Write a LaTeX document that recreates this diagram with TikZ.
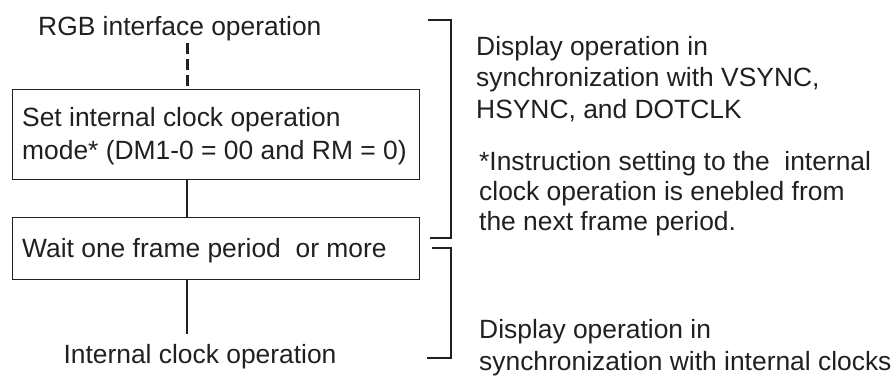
\documentclass[tikz,border=0pt]{standalone}
\usepackage{fontspec}
\setmainfont{Liberation Sans}
\definecolor{ink}{RGB}{35,31,32}
\begin{document}
\begin{tikzpicture}[x=1pt,y=-1pt,
  txt/.style={font=\fontsize{26.4}{31.5}\selectfont, text=ink, inner sep=0pt},
  fbox/.style={draw=ink, line width=1pt, minimum width=407pt, inner sep=0pt},
  conn/.style={draw=ink, line width=2pt},
  dconn/.style={draw=ink, line width=3pt, dash pattern=on 11pt off 5pt},
  brk/.style={draw=ink, line width=2pt}]
\useasboundingbox (0,0) rectangle (896,376);
\coordinate (c) at (187,0);
\node[txt, anchor=base west] (rgb) at (38,35) {RGB interface operation};
\node[fbox, minimum height=90pt, anchor=north west] (b1) at (12,89) {};
\node[txt, anchor=base west, align=left, font=\fontsize{26.4}{33}\selectfont] (t1) at (22,159) {Set internal clock operation\\mode* (DM1-0 = 00 and RM = 0)};
\node[fbox, minimum height=62pt, anchor=north west] (b2) at (12,217) {};
\node[txt, anchor=base west] (t2) at (22,257) {Wait one frame period\ \ or more};
\node[txt, anchor=base] (ico) at (200,363) {Internal clock operation};
\coordinate (e) at (187,334);
\draw[dconn, shorten <=2.5pt, shorten >=3pt] (rgb.south -| c) -- (b1.north -| c);
\draw[conn] (b1.south -| c) -- (b2.north -| c);
\draw[conn] (b2.south -| c) -- (e);
\draw[brk] (428,20) -- (451,20) -- (451,238) -- (430,238);
\draw[brk] (432,248) -- (451,248) -- (451,358) -- (427,358);
\node[txt, anchor=base west, align=left] (d1) at (476,118) {Display operation in\\synchronization with VSYNC,\\HSYNC, and DOTCLK};
\node[txt, anchor=base west, align=left, font=\fontsize{26.4}{30}\selectfont] (n1) at (479,230) {*Instruction setting to the\ \ internal\\clock operation is enebled from\\the next frame period.};
\node[txt, anchor=base west, align=left, font=\fontsize{26.4}{32}\selectfont] (d2) at (479,370) {Display operation in\\synchronization with internal clocks};
\end{tikzpicture}
\end{document}
